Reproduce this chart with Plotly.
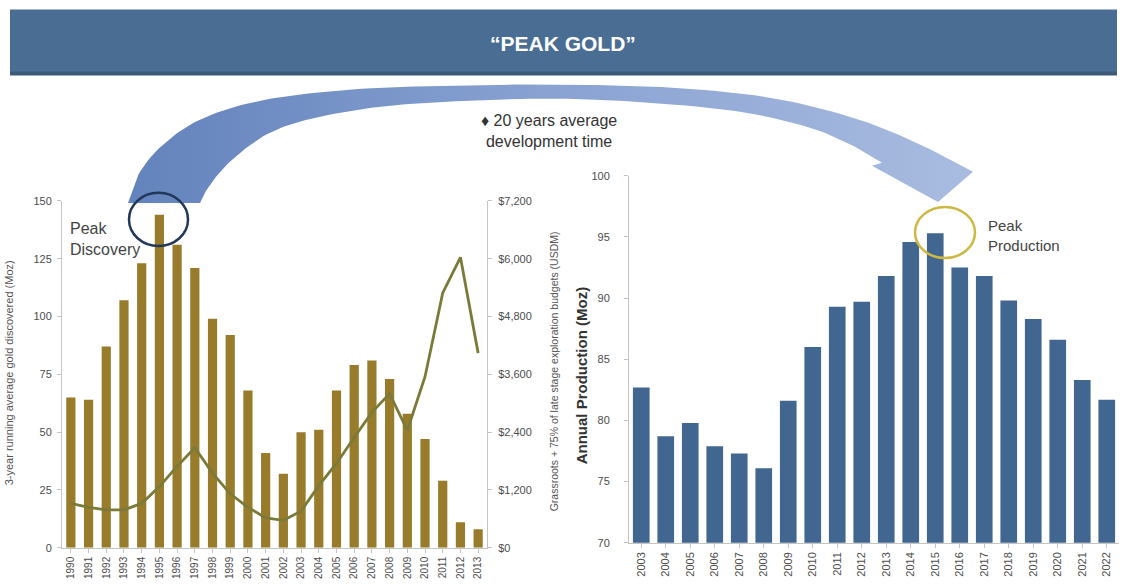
import plotly.graph_objects as go
import numpy as np

W, H = 1126, 584

# ---------------- data ----------------
years_left = ["1990", "1991", "1992", "1993", "1994", "1995", "1996", "1997",
              "1998", "1999", "2000", "2001", "2002", "2003", "2004", "2005",
              "2006", "2007", "2008", "2009", "2010", "2011", "2012", "2013"]
gold_discovered_moz = [65, 64, 87, 107, 123, 144, 131, 121, 99, 92, 68, 41,
                       32, 50, 51, 68, 79, 81, 73, 58, 47, 29, 11, 8]
exploration_budget_usdm = [920, 840, 785, 785, 920, 1270, 1690, 2075, 1550, 1120,
                           840, 620, 570, 760, 1290, 1750, 2290, 2810, 3200, 2435,
                           3550, 5290, 6030, 4040]

years_right = ["2003", "2004", "2005", "2006", "2007", "2008", "2009", "2010",
               "2011", "2012", "2013", "2014", "2015", "2016", "2017", "2018",
               "2019", "2020", "2021", "2022"]
annual_production_moz = [82.7, 78.7, 79.8, 77.9, 77.3, 76.1, 81.6, 86.0, 89.3, 89.7,
                         91.8, 94.6, 95.3, 92.5, 91.8, 89.8, 88.3, 86.6, 83.3, 81.7]

left_ticks = [0, 25, 50, 75, 100, 125, 150]
right_money_ticks = [0, 1200, 2400, 3600, 4800, 6000, 7200]
right_money_labels = ["$" + format(v, ",d") for v in right_money_ticks]
prod_ticks = [70, 75, 80, 85, 90, 95, 100]

# ---------------- helpers (pixel -> paper) ----------------
# small vertical correction measured from the rendering pipeline
VS, VO = 0.977, 6.6

def fx(x):
    return x / W

def fy(y):
    return 1 - ((y - VO) / VS) / H

def py(y):
    return (y - VO) / VS

GOLD = "#987b2b"
OLIVE = "#7b7a38"
BLUE = "#416690"
AXIS = "#c4c4c4"
TICKTXT = "#4d4d4d"

fig = go.Figure()

# left chart bars
fig.add_trace(go.Bar(x=years_left, y=gold_discovered_moz, marker_color=GOLD,
                     marker_line_width=0, width=0.52, xaxis="x", yaxis="y"))
# left chart line (secondary axis)
fig.add_trace(go.Scatter(x=years_left, y=exploration_budget_usdm, mode="lines",
                         line=dict(color=OLIVE, width=2.8), xaxis="x", yaxis="y2"))
# right chart bars
fig.add_trace(go.Bar(x=years_right, y=annual_production_moz, marker_color=BLUE,
                     marker_line_width=0, width=0.68, xaxis="x3", yaxis="y3"))

# ---------------- decorative curved arrow ----------------
def catmull(pts, n=12):
    pts = np.asarray(pts, dtype=float)
    P = np.vstack([pts[0], pts, pts[-1]])
    out = []
    for i in range(1, len(P) - 2):
        p0, p1, p2, p3 = P[i - 1], P[i], P[i + 1], P[i + 2]
        for t in np.linspace(0, 1, n, endpoint=False):
            t2, t3 = t * t, t * t * t
            out.append(0.5 * ((2 * p1) + (-p0 + p2) * t +
                              (2 * p0 - 5 * p1 + 4 * p2 - p3) * t2 +
                              (-p0 + 3 * p1 - 3 * p2 + p3) * t3))
    out.append(P[-2])
    return np.array(out)

outer = [(128, 203), (140, 172), (163, 145), (200, 120), (260, 101), (350, 90),
         (450, 86), (560, 85), (670, 88), (770, 98), (850, 117), (910, 140), (950, 160)]
head = [(973, 172), (938, 202), (872, 166)]
inner = [(882, 163), (855, 147), (810, 128), (740, 112), (650, 103), (560, 99),
         (470, 101), (390, 106), (320, 117), (270, 133), (232, 160), (210, 185), (200, 203)]
o = catmull(outer)
i_ = catmull(inner)
poly = np.vstack([o, np.array(head, float), i_, o[:1]])
fig.add_trace(go.Scatter(x=poly[:, 0], y=py(poly[:, 1]), mode="lines", fill="toself",
                         line=dict(width=0, color="rgba(0,0,0,0)"),
                         fillgradient=dict(type="horizontal",
                                           colorscale=[[0, "#6383bc"], [0.5, "#89a2d2"],
                                                       [1, "#a9bce0"]]),
                         hoverinfo="skip", xaxis="x4", yaxis="y4"))

# ---------------- layout ----------------
left_dom_x = [fx(62), fx(487)]
left_dom_y = [fy(547), fy(201)]
right_dom_x = [fx(629), fx(1119)]
right_dom_y = [fy(542), fy(176)]

axis_common = dict(showline=True, linecolor=AXIS, linewidth=1, ticks="outside",
                   ticklen=4, tickcolor=AXIS, showgrid=False, zeroline=False,
                   fixedrange=True)

fig.update_layout(
    width=W, height=H, margin=dict(l=0, r=0, t=0, b=0),
    paper_bgcolor="white", plot_bgcolor="rgba(0,0,0,0)", showlegend=False,
    font=dict(family="Liberation Sans, Arial, sans-serif", color=TICKTXT),
    xaxis=dict(domain=left_dom_x, anchor="y", type="category", tickangle=-90,
               tickfont=dict(size=10, color=TICKTXT), range=[-0.5, 23.5], **axis_common),
    yaxis=dict(domain=left_dom_y, anchor="x", range=[0, 150], tickvals=left_ticks,
               ticklabelstandoff=3,
               tickfont=dict(size=11, color=TICKTXT), **axis_common),
    yaxis2=dict(overlaying="y", side="right", anchor="x", range=[0, 7200],
                tickvals=right_money_ticks, ticktext=right_money_labels,
                ticklabelstandoff=4,
                tickfont=dict(size=11, color=TICKTXT), **axis_common),
    xaxis3=dict(domain=right_dom_x, anchor="y3", type="category", tickangle=-90,
                tickfont=dict(size=11, color=TICKTXT), range=[-0.5, 19.5], **axis_common),
    yaxis3=dict(domain=right_dom_y, anchor="x3", range=[70, 100], tickvals=prod_ticks,
                ticklabelstandoff=12,
                tickfont=dict(size=11, color=TICKTXT), **axis_common),
    xaxis4=dict(domain=[0, 1], anchor="y4", range=[0, W], visible=False, fixedrange=True),
    yaxis4=dict(domain=[0, 1], anchor="x4", range=[H, 0], visible=False, fixedrange=True),
)

shapes = [
    # banner
    dict(type="rect", xref="paper", yref="paper", x0=fx(10), x1=fx(1117), y0=fy(75), y1=fy(10),
         fillcolor="#4a6d94", line=dict(width=0), layer="below"),
    dict(type="rect", xref="paper", yref="paper", x0=fx(10), x1=fx(1117), y0=fy(76), y1=fy(72),
         fillcolor="#3d5a7b", line=dict(width=0), layer="below"),
    # peak discovery circle
    dict(type="circle", xref="paper", yref="paper", x0=fx(129), x1=fx(188), y0=fy(246), y1=fy(193),
         line=dict(color="#22375a", width=2.5), fillcolor="rgba(0,0,0,0)", layer="above"),
    # peak production circle
    dict(type="circle", xref="paper", yref="paper", x0=fx(915), x1=fx(975), y0=fy(258), y1=fy(207),
         line=dict(color="#cdb843", width=2.5), fillcolor="rgba(0,0,0,0)", layer="above"),
]
fig.update_layout(shapes=shapes)

annotations = [
    dict(text="<b>\u201cPEAK GOLD\u201d</b>", x=fx(563), y=fy(44), xref="paper", yref="paper",
         showarrow=False, font=dict(size=21, color="white", family="Liberation Sans, Arial, sans-serif"),
         xanchor="center", yanchor="middle"),
    dict(text="\u2666 20 years average<br>development time", x=fx(549), y=fy(131),
         xref="paper", yref="paper", showarrow=False, align="center",
         font=dict(size=16, color="#333333"), xanchor="center", yanchor="middle"),
    dict(text="Peak<br>Discovery", x=fx(68), y=fy(239), xref="paper", yref="paper",
         showarrow=False, align="left", font=dict(size=16, color="#444444"),
         xanchor="left", yanchor="middle"),
    dict(text="Peak<br>Production", x=fx(986), y=fy(236), xref="paper", yref="paper",
         showarrow=False, align="left", font=dict(size=15, color="#444444"),
         xanchor="left", yanchor="middle"),
    dict(text="3-year running average gold discovered (Moz)", x=fx(9), y=fy(373),
         xref="paper", yref="paper", showarrow=False, textangle=-90,
         font=dict(size=11, color="#555555"), xanchor="center", yanchor="middle"),
    dict(text="Grassroots + 75% of late stage exploration budgets (USDM)", x=fx(554), y=fy(371),
         xref="paper", yref="paper", showarrow=False, textangle=-90,
         font=dict(size=10.5, color="#555555"), xanchor="center", yanchor="middle"),
    dict(text="<b>Annual Production (Moz)</b>", x=fx(581), y=fy(376),
         xref="paper", yref="paper", showarrow=False, textangle=-90,
         font=dict(size=15, color="#333333"), xanchor="center", yanchor="middle"),
]
fig.update_layout(annotations=annotations)

fig.write_html("out.html")
